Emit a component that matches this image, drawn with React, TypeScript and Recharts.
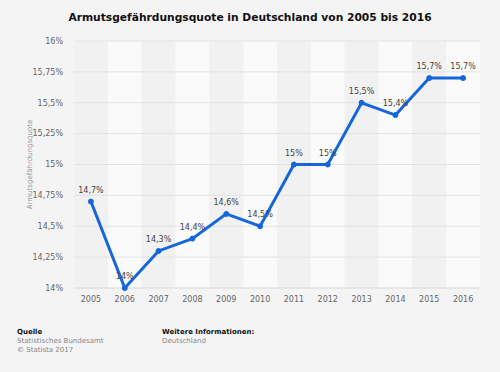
import { LineChart, Line, XAxis, YAxis, CartesianGrid, ReferenceArea, LabelList } from "recharts";

const years = ["2005", "2006", "2007", "2008", "2009", "2010", "2011", "2012", "2013", "2014", "2015", "2016"];
const quote = [14.7, 14.0, 14.3, 14.4, 14.6, 14.5, 15.0, 15.0, 15.5, 15.4, 15.7, 15.7];
const yTicks = [14, 14.25, 14.5, 14.75, 15, 15.25, 15.5, 15.75, 16];

const data = years.map((year, i) => ({ year, value: quote[i] }));

const font = "'DejaVu Sans', Verdana, sans-serif";
const fmt = (v: number) => String(v).replace(".", ",") + "%";

export default function App() {
  return (
    <div
      style={{
        position: "absolute",
        left: 0,
        top: 0,
        width: 500,
        height: 372,
        background: "#f4f4f4",
        fontFamily: font,
      }}
    >
      <div
        style={{
          position: "absolute",
          top: 11,
          width: 500,
          textAlign: "center",
          fontSize: 10.7,
          fontWeight: "bold",
          color: "#111",
        }}
      >
        Armutsgefährdungsquote in Deutschland von 2005 bis 2016
      </div>
      <LineChart
        width={500}
        height={372}
        data={data}
        margin={{ top: 41, right: 20, bottom: 64, left: 0 }}
      >
        {years.map((y, i) => (
          <ReferenceArea
            key={y}
            x1={y}
            x2={y}
            fill={i % 2 === 1 ? "#fafafa" : "#f1f1f1"}
            fillOpacity={1}
            stroke="none"
            ifOverflow="visible"
            zIndex={-150}
          />
        ))}
        <CartesianGrid vertical={false} stroke="#e2e2e2" zIndex={-100} />
        <XAxis
          dataKey="year"
          scale="band"
          height={20}
          tickLine={false}
          axisLine={{ stroke: "#e2e2e2" }}
          tick={{ fill: "#666", fontSize: 8, fontFamily: font }}
        />
        <YAxis
          width={74}
          domain={[14, 16]}
          ticks={yTicks}
          tickFormatter={fmt}
          tickLine={false}
          axisLine={false}
          tickMargin={5}
          tick={{ fill: "#666", fontSize: 8, fontFamily: font }}
          label={{
            value: "Armutsgefährdungsquote",
            angle: -90,
            position: "insideLeft",
            offset: 30,
            style: { fill: "#999", fontSize: 7, fontFamily: font, textAnchor: "middle" },
          }}
        />
        <Line
          dataKey="value"
          stroke="#1666db"
          strokeWidth={3}
          dot={{ r: 2.5, fill: "#1666db", stroke: "#1666db", strokeWidth: 1 }}
          isAnimationActive={false}
        >
          <LabelList
            dataKey="value"
            position="top"
            offset={9}
            formatter={(v: number) => fmt(v)}
            style={{ fill: "#444", fontSize: 8, fontFamily: font }}
          />
        </Line>
      </LineChart>
      <div style={{ position: "absolute", left: 17, top: 328, fontSize: 7, lineHeight: "9px", color: "#888" }}>
        <div style={{ color: "#111", fontWeight: "bold" }}>Quelle</div>
        <div>Statistisches Bundesamt</div>
        <div>© Statista 2017</div>
      </div>
      <div style={{ position: "absolute", left: 162, top: 328, fontSize: 7, lineHeight: "9px", color: "#888" }}>
        <div style={{ color: "#111", fontWeight: "bold" }}>Weitere Informationen:</div>
        <div>Deutschland</div>
      </div>
    </div>
  );
}
